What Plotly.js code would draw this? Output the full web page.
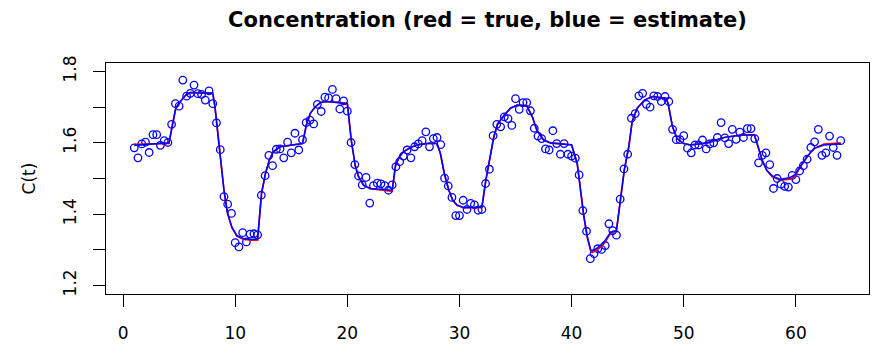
<!DOCTYPE html>
<html>
<head>
<meta charset="utf-8">
<script src="https://cdn.plot.ly/plotly-3.0.1.min.js"></script>
<style>html,body{margin:0;padding:0;background:#fff;}#chart{width:873px;height:345px;}</style>
</head>
<body>
<div id="chart"></div>
<script>
var obsT = [1.00,1.33,1.67,2.00,2.33,2.67,3.00,3.33,3.67,4.00,4.33,4.67,5.00,5.33,5.67,6.00,6.33,6.67,7.00,7.33,
7.67,8.00,8.33,8.67,9.00,9.33,9.67,10.00,10.33,10.67,11.00,11.33,11.67,12.00,12.33,12.67,13.00,13.33,13.67,14.00,
14.33,14.67,15.00,15.33,15.67,16.00,16.33,16.67,17.00,17.33,17.67,18.00,18.33,18.67,19.00,19.33,19.67,20.00,
20.33,20.67,21.00,21.33,21.67,22.00,22.33,22.67,23.00,23.33,23.67,24.00,24.33,24.67,25.00,25.33,25.67,26.00,26.33,26.67,
27.00,27.33,27.67,28.00,28.33,28.67,29.00,29.33,29.67,30.00,30.33,30.67,31.00,31.33,31.67,32.00,32.33,32.67,33.00,33.33,
33.67,34.00,34.33,34.67,35.00,35.33,35.67,36.00,36.33,36.67,37.00,37.33,37.67,38.00,38.33,38.67,39.00,39.33,39.67,40.00,
40.33,40.67,41.00,41.33,41.67,
42.00,42.33,42.67,43.00,43.33,43.67,44.00,44.33,44.67,45.00,45.33,45.67,46.00,46.33,46.67,47.00,47.33,47.67,48.00,48.33,
48.67,49.00,49.33,49.67,50.00,50.33,50.67,51.00,51.33,51.67,52.00,52.33,52.67,53.00,53.33,53.67,54.00,54.33,54.67,55.00,
55.33,55.67,56.00,56.33,56.67,57.00,57.33,57.67,58.00,58.33,58.67,59.00,59.33,59.67,60.00,60.33,60.67,61.00,61.33,61.67,
62.00,62.33,62.67,63.00,63.33,63.67,64.00];

// Observed concentrations (circles)
var obsC = [1.586,1.558,1.597,1.602,1.573,1.623,1.623,1.593,1.606,1.601,
1.652,1.710,1.703,1.776,1.731,1.739,1.762,1.738,1.736,1.720,
1.746,1.710,1.656,1.581,1.449,1.428,1.402,1.320,1.308,1.348,
1.322,1.344,1.345,1.342,1.453,1.508,1.565,1.536,1.582,1.583,
1.558,1.602,1.572,1.627,1.580,1.609,1.657,1.664,1.653,1.708,
1.688,1.728,1.726,1.750,1.724,1.695,1.718,1.689,
1.601,1.539,1.507,1.482,1.503,1.431,1.480,1.487,1.485,1.480,
1.467,1.482,1.533,1.547,1.563,1.580,1.558,1.589,1.597,1.606,
1.631,1.589,1.612,1.615,1.595,1.501,1.479,1.447,1.396,1.396,
1.439,1.413,1.430,1.426,1.411,1.413,1.486,1.526,1.620,1.652,
1.645,1.673,1.668,1.649,1.724,1.694,1.713,1.713,1.690,1.641,
1.619,1.612,1.583,1.580,1.634,1.598,1.568,1.598,1.568,1.563,
1.557,1.510,1.410,1.352,1.275,
1.289,1.303,1.301,1.312,1.373,1.354,1.341,1.442,1.527,1.568,
1.669,1.682,1.732,1.739,1.708,1.700,1.732,1.730,1.716,1.730,
1.716,1.638,1.609,1.609,1.620,1.585,1.572,1.594,1.594,1.608,
1.583,1.597,1.600,1.615,1.657,1.614,1.598,1.638,1.610,1.630,
1.615,1.640,1.640,1.612,1.544,1.565,1.572,1.539,1.472,1.500,
1.484,1.478,1.476,1.509,1.497,1.521,1.536,1.554,1.587,1.603,
1.638,1.565,1.572,1.619,1.587,1.565,1.606];

// Curve times
var lineT = [1.0,2.0,3.0,4.1,4.4,4.7,5.1,5.6,6.0,7.0,8.0,8.2,8.45,8.7,9.0,9.3,9.7,10.15,10.75,11.5,12.0,
12.35,12.7,13.05,13.4,14.0,15.0,16.0,16.35,16.7,17.1,17.6,18.2,19.0,20.0,20.35,20.7,21.0,21.45,22.05,23.0,24.0,
24.3,24.65,25.0,25.6,26.2,27.1,28.0,28.3,28.65,29.05,29.4,29.8,30.4,31.2,32.0,32.35,32.7,33.05,33.4,34.0,34.55,
35.15,36.0,36.5,36.9,37.5,38.1,39.0,40.0,40.5,40.8,41.1,41.4,41.7,41.85,42.3,42.9,43.5,44.0,44.4,44.7,45.1,45.4,
45.85,46.5,47.2,48.0,48.4,48.6,49.0,49.4,50.0,50.6,52.1,53.6,55.1,56.3,56.6,57.0,57.4,57.9,58.6,59.5,59.9,60.4,
61.0,61.6,62.5,64.0];

// Estimated concentration (blue line)
var estC = [1.593,1.595,1.597,1.600,1.650,1.697,1.716,1.734,1.741,1.741,1.739,1.700,1.627,1.552,1.467,1.405,1.364,1.340,1.331,1.329,1.330,
1.458,1.514,1.552,1.575,1.589,1.594,1.598,1.650,1.683,1.700,1.713,1.716,1.714,1.710,1.608,1.537,1.505,1.481,1.472,1.469,1.467,
1.537,1.561,1.575,1.586,1.594,1.598,1.598,1.570,1.514,1.467,1.439,1.425,1.418,1.419,1.420,1.495,1.552,1.615,1.653,1.678,1.697,
1.706,1.704,1.673,1.636,1.608,1.600,1.597,1.594,1.542,1.467,1.392,1.336,1.300,1.297,1.305,1.322,1.350,1.354,1.444,1.524,1.589,1.660,
1.697,1.720,1.730,1.728,1.725,1.711,1.645,1.612,1.598,1.594,1.600,1.615,1.622,1.622,1.589,1.551,1.523,1.507,1.497,1.503,1.510,1.533,
1.561,1.584,1.594,1.597];

// True concentration (red line)
var trueC = [1.596,1.597,1.597,1.598,1.650,1.697,1.716,1.734,1.741,1.741,1.740,1.700,1.627,1.552,1.467,1.405,1.362,1.338,1.329,1.327,1.327,
1.458,1.514,1.552,1.575,1.589,1.594,1.598,1.650,1.683,1.700,1.713,1.716,1.714,1.711,1.608,1.537,1.505,1.481,1.471,1.467,1.464,
1.537,1.561,1.575,1.586,1.594,1.598,1.599,1.570,1.514,1.467,1.439,1.425,1.418,1.418,1.418,1.495,1.552,1.615,1.653,1.678,1.697,
1.706,1.705,1.673,1.636,1.608,1.600,1.597,1.595,1.542,1.467,1.392,1.336,1.296,1.292,1.300,1.318,1.347,1.354,1.444,1.524,1.589,1.660,
1.697,1.720,1.730,1.728,1.726,1.711,1.645,1.612,1.598,1.594,1.600,1.615,1.622,1.623,1.589,1.551,1.523,1.505,1.496,1.498,1.506,1.533,
1.561,1.584,1.597,1.600];

var xTicks = [0,10,20,30,40,50,60];
var yTicks = [1.2,1.3,1.4,1.5,1.6,1.7,1.8];
var yTickText = ['1.2','','1.4','','1.6','','1.8'];

var traces = [
  {x: obsT, y: obsC, type:'scatter', mode:'markers', name:'observed',
   marker:{symbol:'circle-open', size:7.5, color:'#0000ff', line:{color:'#0000ff', width:1.3}}},
  {x: lineT, y: trueC, type:'scatter', mode:'lines', name:'true', line:{color:'#ff0000', width:1.6}},
  {x: lineT, y: estC, type:'scatter', mode:'lines', name:'estimate', line:{color:'#0000ff', width:1.6}}
];

var axisFont = {family:'DejaVu Sans, Arial, sans-serif', size:17, color:'#000'};

var layout = {
  width:873, height:345,
  margin:{l:106, r:4, t:63, b:51, pad:0},
  paper_bgcolor:'#fff', plot_bgcolor:'#fff',
  showlegend:false,
  hovermode:false,
  title:{text:'Concentration (red = true, blue = estimate)',
         font:{family:'DejaVu Sans, Arial, sans-serif', size:21, color:'#000', weight:'bold'},
         x:0.5, xref:'paper', xanchor:'center', y:1-20/345, yref:'container', yanchor:'middle'},
  xaxis:{range:[-1.52,66.52], tickmode:'array', tickvals:xTicks, ticktext:xTicks.map(String),
         ticks:'outside', ticklen:12, tickwidth:1, tickcolor:'#000',
         showline:true, mirror:true, linecolor:'#000', linewidth:1,
         showgrid:false, zeroline:false, tickfont:axisFont, ticklabelstandoff:12, automargin:false},
  yaxis:{range:[1.176,1.824], tickmode:'array', tickvals:yTicks, ticktext:yTickText, tickangle:-90,
         ticks:'outside', ticklen:12, tickwidth:1, tickcolor:'#000',
         showline:true, mirror:true, linecolor:'#000', linewidth:1,
         showgrid:false, zeroline:false, tickfont:axisFont, ticklabelstandoff:10, automargin:false,
         title:{text:'C(t)', font:axisFont, standoff:20}}
};

Plotly.newPlot('chart', traces, layout, {displayModeBar:false, staticPlot:true});
</script>
</body>
</html>
